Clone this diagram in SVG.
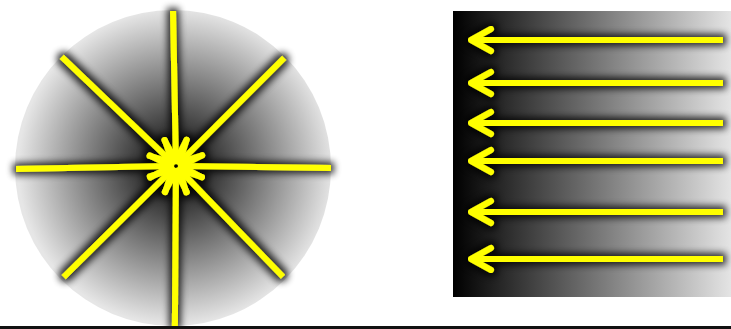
<svg xmlns="http://www.w3.org/2000/svg" width="731" height="329" viewBox="0 0 731 329">
<defs>
<radialGradient id="rg" cx="176" cy="167" r="158" gradientUnits="userSpaceOnUse">
<stop offset="0" stop-color="#000"/>
<stop offset="0.5" stop-color="#747474"/>
<stop offset="1" stop-color="#e6e6e6"/>
</radialGradient>
<linearGradient id="lg" x1="453" y1="0" x2="731" y2="0" gradientUnits="userSpaceOnUse">
<stop offset="0" stop-color="#000"/>
<stop offset="1" stop-color="#e4e4e4"/>
</linearGradient>
<filter id="glow" filterUnits="userSpaceOnUse" x="0" y="0" width="731" height="329">
<feMorphology in="SourceAlpha" operator="dilate" radius="3" result="d"/>
<feGaussianBlur in="d" stdDeviation="3.5" result="b"/>
<feComponentTransfer in="b" result="s"><feFuncA type="linear" slope="0.8"/></feComponentTransfer>
<feMerge><feMergeNode in="s"/><feMergeNode in="SourceGraphic"/></feMerge>
</filter>
</defs>
<style>
.ln{stroke:#ffff00;stroke-width:6;fill:none;stroke-linecap:butt}
.hd{stroke:#ffff00;stroke-width:6;fill:none;stroke-linecap:round;stroke-linejoin:round}
</style>
<rect width="731" height="329" fill="#fff"/>
<g id="circle-field">
<circle cx="173" cy="168" r="158" fill="url(#rg)"/>
</g>
<g id="gradient-field">
<rect x="453" y="11" width="278" height="286" fill="url(#lg)"/>
</g>
<g id="connectors" filter="url(#glow)">
<g transform="translate(176,166)">
<g transform="rotate(0.7)"><line class="ln" x1="6" y1="0" x2="155" y2="0"/><polyline class="hd" points="26,-11 5,0 26,11"/></g>
<g transform="rotate(178.9)"><line class="ln" x1="6" y1="0" x2="160" y2="0"/><polyline class="hd" points="26,-11 5,0 26,11"/></g>
<g transform="rotate(-91.1)"><line class="ln" x1="6" y1="0" x2="155" y2="0"/><polyline class="hd" points="26,-11 5,0 26,11"/></g>
<g transform="rotate(90.4)"><line class="ln" x1="6" y1="0" x2="162" y2="0"/><polyline class="hd" points="26,-11 5,0 26,11"/></g>
<g transform="rotate(-136.3)"><line class="ln" x1="6" y1="0" x2="158" y2="0"/><polyline class="hd" points="26,-11 5,0 26,11"/></g>
<g transform="rotate(-45)"><line class="ln" x1="6" y1="0" x2="153" y2="0"/><polyline class="hd" points="26,-11 5,0 26,11"/></g>
<g transform="rotate(135.3)"><line class="ln" x1="6" y1="0" x2="158" y2="0"/><polyline class="hd" points="26,-11 5,0 26,11"/></g>
<g transform="rotate(46)"><line class="ln" x1="6" y1="0" x2="154" y2="0"/><polyline class="hd" points="26,-11 5,0 26,11"/></g>
</g>
<g>
<line class="ln" x1="472" y1="40" x2="723" y2="40"/><polyline class="hd" points="491,29 471,40 491,51"/>
<line class="ln" x1="472" y1="83" x2="723" y2="83"/><polyline class="hd" points="491,72 471,83 491,94"/>
<line class="ln" x1="472" y1="123" x2="723" y2="123"/><polyline class="hd" points="491,112 471,123 491,134"/>
<line class="ln" x1="472" y1="161" x2="723" y2="161"/><polyline class="hd" points="491,150 471,161 491,172"/>
<line class="ln" x1="472" y1="212" x2="723" y2="212"/><polyline class="hd" points="491,201 471,212 491,223"/>
<line class="ln" x1="472" y1="259" x2="723" y2="259"/><polyline class="hd" points="491,248 471,259 491,270"/>
</g>
</g>
<line x1="0" y1="327.5" x2="731" y2="327.5" stroke="#111" stroke-width="3"/>
</svg>
